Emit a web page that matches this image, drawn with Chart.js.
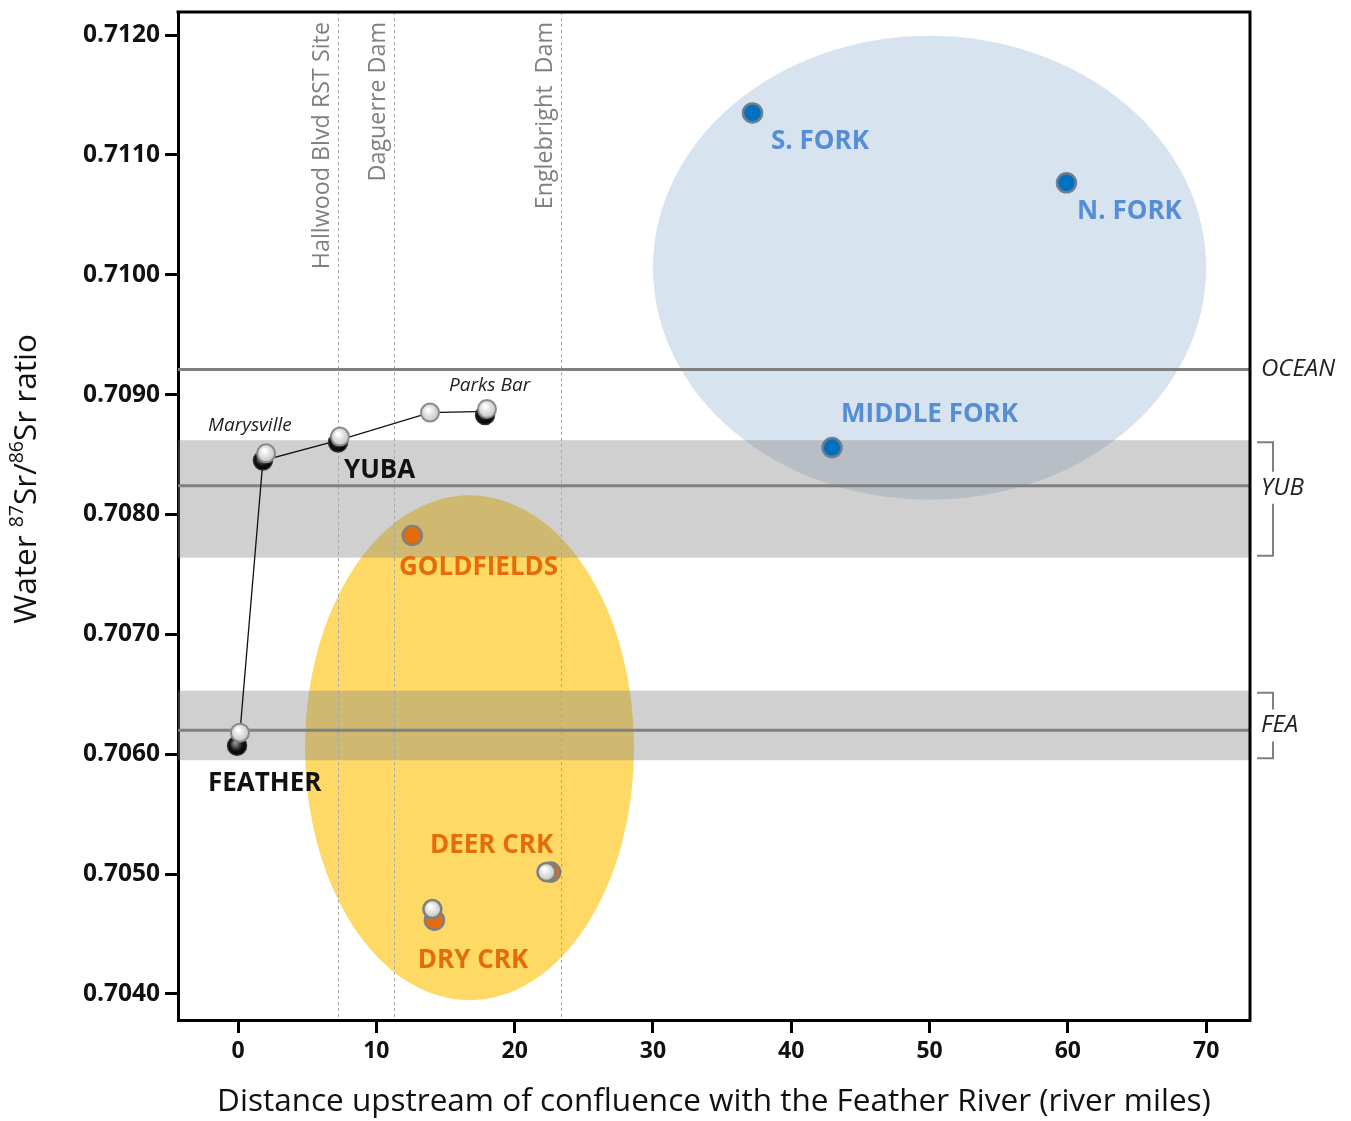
<!DOCTYPE html>
<html>
<head>
<meta charset="utf-8">
<script src="https://cdn.jsdelivr.net/npm/chart.js@4/dist/chart.umd.min.js"></script>
<style>
  html, body { margin: 0; padding: 0; background: #ffffff; }
  #wrap { width: 1351px; height: 1121px; }
</style>
</head>
<body>
<div id="wrap"><canvas id="chart" width="1351" height="1121"></canvas></div>
<script>
// Axis ticks
const xTicks = [0, 10, 20, 30, 40, 50, 60, 70];
const yTicks = [0.7040, 0.7050, 0.7060, 0.7070, 0.7080, 0.7090, 0.7100, 0.7110, 0.7120];

// Yuba / Feather main-stem samples (river miles, 87Sr/86Sr)
const mainStemDark = [
  { x: -0.07, y: 0.70607 },
  { x: 1.80, y: 0.70845 },
  { x: 7.23, y: 0.70860 },
  { x: 17.86, y: 0.70883 }
];
const mainStemLight = [
  { x: 0.14, y: 0.70618 },
  { x: 2.03, y: 0.70851 },
  { x: 7.37, y: 0.70865 },
  { x: 13.88, y: 0.70885 },
  { x: 18.00, y: 0.70888 }
];
const mainStemPath = [
  { x: 0.14, y: 0.70618 },
  { x: 1.80, y: 0.70845 },
  { x: 7.30, y: 0.70862 },
  { x: 13.88, y: 0.70885 },
  { x: 17.93, y: 0.70886 }
];

// Tributaries: Goldfields, Dry Creek, Deer Creek
const tribOrange = [
  { x: 12.6, y: 0.707825 },
  { x: 14.2, y: 0.704616 },
  { x: 22.6, y: 0.705017 }
];
const tribLight = [
  { x: 14.05, y: 0.704708 },
  { x: 22.3, y: 0.705017 }
];

// Upper forks: S. Fork, N. Fork, Middle Fork
const forks = [
  { x: 37.2, y: 0.71135 },
  { x: 59.9, y: 0.710767 },
  { x: 42.95, y: 0.708558 }
];

// Reference 87Sr/86Sr values and ranges
const oceanValue = 0.70921;
const yubValue = 0.70824;
const yubRange = [0.70764, 0.70862];
const feaValue = 0.70620;
const feaRange = [0.70595, 0.70653];

// Landmarks along the river (river miles)
const landmarkMiles = [7.23, 11.28, 23.35];
const landmarkNames = ['Hallwood Blvd RST Site', 'Daguerre Dam', 'Englebright  Dam'];

// Source regions (centre and half-widths, data units)
const forkRegion = { cx: 50.0, cy: 0.710058, rx: 20.0, ry: 0.001935 };
const tribRegion = { cx: 16.74, cy: 0.706054, rx: 11.9, ry: 0.002106 };

// Site names at data positions
const siteNames = ['FEATHER', 'YUBA', 'GOLDFIELDS', 'DEER CRK', 'DRY CRK', 'S. FORK', 'N. FORK', 'MIDDLE FORK', 'Marysville', 'Parks Bar'];
const siteX = [-2.17, 7.66, 11.64, 13.88, 13.0, 38.54, 60.67, 43.6, -2.17, 15.26];
const siteY = [0.705758, 0.708366, 0.707558, 0.705242, 0.704282, 0.711108, 0.710525, 0.708833, 0.708741, 0.709075];

const FONT = '"Open Sans", "Liberation Sans", sans-serif';
const BLUE_TXT = '#558ed5';
const ORANGE = '#e46c0a';
const siteStyle = [
  ['bold 26px', '#111111'], ['bold 26px', '#111111'], ['bold 26px', ORANGE], ['bold 26px', ORANGE],
  ['bold 26px', ORANGE], ['bold 26px', BLUE_TXT], ['bold 26px', BLUE_TXT], ['bold 26px', BLUE_TXT],
  ['italic 19px', '#222222'], ['italic 19px', '#222222']
];

function pix(chart, x, y) {
  return [chart.scales.x.getPixelForValue(x), chart.scales.y.getPixelForValue(y)];
}

function shaded(light) {
  return (c) => {
    const chart = c.chart;
    if (c.type !== 'data' || !chart.scales || !chart.scales.x || !c.raw) return light ? '#eeeeee' : '#000000';
    const [px, py] = pix(chart, c.raw.x, c.raw.y);
    if (!isFinite(px) || !isFinite(py)) return light ? '#eeeeee' : '#000000';
    const g = chart.ctx.createRadialGradient(px - 2, py - 3, 1, px, py, 10);
    if (light) { g.addColorStop(0, '#ffffff'); g.addColorStop(1, '#bdbdbd'); }
    else { g.addColorStop(0, '#8c8c8c'); g.addColorStop(0.6, '#111111'); g.addColorStop(1, '#000000'); }
    return g;
  };
}

// Background layers: regions, range bands, reference lines, landmarks
const backdrop = {
  id: 'backdrop',
  beforeDatasetsDraw(chart) {
    const { ctx, chartArea: a, scales: { x, y } } = chart;
    ctx.save();
    ctx.beginPath();
    ctx.rect(a.left, a.top, a.right - a.left, a.bottom - a.top);
    ctx.clip();

    const ell = (r, color) => {
      const cx = x.getPixelForValue(r.cx), cy = y.getPixelForValue(r.cy);
      const rx = Math.abs(x.getPixelForValue(r.cx + r.rx) - cx);
      const ry = Math.abs(y.getPixelForValue(r.cy + r.ry) - cy);
      ctx.fillStyle = color;
      ctx.beginPath();
      ctx.ellipse(cx, cy, rx, ry, 0, 0, Math.PI * 2);
      ctx.fill();
    };
    ell(forkRegion, '#d8e3f0');
    ell(tribRegion, '#fed966');

    ctx.fillStyle = 'rgba(128,128,128,0.37)';
    [yubRange, feaRange].forEach(r => {
      const y1 = y.getPixelForValue(r[1]), y0 = y.getPixelForValue(r[0]);
      ctx.fillRect(a.left, y1, a.right - a.left, y0 - y1);
    });

    ctx.setLineDash([3, 3]);
    ctx.strokeStyle = '#a6a6a6';
    ctx.lineWidth = 1;
    landmarkMiles.forEach(m => {
      const px = Math.round(x.getPixelForValue(m)) + 0.5;
      ctx.beginPath();
      ctx.moveTo(px, a.top);
      ctx.lineTo(px, a.bottom);
      ctx.stroke();
    });
    ctx.setLineDash([]);

    ctx.strokeStyle = '#808080';
    ctx.lineWidth = 3;
    [oceanValue, yubValue, feaValue].forEach(v => {
      const py = y.getPixelForValue(v);
      ctx.beginPath();
      ctx.moveTo(a.left, py);
      ctx.lineTo(a.right, py);
      ctx.stroke();
    });

    ctx.fillStyle = '#7f7f7f';
    ctx.font = '23.3px ' + FONT;
    ctx.textAlign = 'right';
    ctx.textBaseline = 'middle';
    landmarkMiles.forEach((m, i) => {
      const px = x.getPixelForValue(m) - 16;
      ctx.save();
      ctx.translate(px, a.top + 10);
      ctx.rotate(-Math.PI / 2);
      ctx.fillText(landmarkNames[i], 0, 0);
      ctx.restore();
    });
    ctx.restore();
  }
};

// Foreground: frame, site names, reference labels, y title
const overlay = {
  id: 'overlay',
  afterDraw(chart) {
    const { ctx, chartArea: a, scales: { x, y } } = chart;
    ctx.save();
    // top and right frame edges
    ctx.strokeStyle = '#000';
    ctx.lineWidth = 3;
    ctx.beginPath();
    ctx.moveTo(a.left - 1.5, a.top);
    ctx.lineTo(a.right, a.top);
    ctx.lineTo(a.right, a.bottom + 1.5);
    ctx.stroke();

    // site names
    ctx.textAlign = 'left';
    ctx.textBaseline = 'middle';
    siteNames.forEach((t, i) => {
      ctx.font = siteStyle[i][0] + ' ' + FONT;
      ctx.fillStyle = siteStyle[i][1];
      ctx.fillText(t, x.getPixelForValue(siteX[i]), y.getPixelForValue(siteY[i]));
    });

    // reference labels on the right
    const lx = a.right + 11;
    const yubY = y.getPixelForValue(yubValue) + 2;
    const feaY = y.getPixelForValue((feaRange[0] + feaRange[1]) / 2);
    ctx.font = 'italic 24px ' + FONT;
    ctx.fillStyle = '#222222';
    ctx.fillText('OCEAN', lx, y.getPixelForValue(oceanValue));
    ctx.fillText('YUB', lx, yubY);
    ctx.fillText('FEA', lx, feaY);

    // range brackets
    ctx.strokeStyle = '#808080';
    ctx.lineWidth = 2;
    const bracket = (r, mid) => {
      const top = y.getPixelForValue(r[1]) + 2, bot = y.getPixelForValue(r[0]) - 2;
      const bx = a.right + 23, x0 = a.right + 7;
      ctx.beginPath();
      ctx.moveTo(x0, top); ctx.lineTo(bx, top); ctx.lineTo(bx, mid - 16);
      ctx.moveTo(bx, mid + 16); ctx.lineTo(bx, bot); ctx.lineTo(x0, bot);
      ctx.stroke();
    };
    bracket(yubRange, yubY);
    bracket(feaRange, feaY);

    // y axis title with superscript isotopes
    const parts = [['Water ', false], ['87', true], ['Sr/', false], ['86', true], ['Sr ratio', false]];
    const big = '31.5px ' + FONT, small = '19.5px ' + FONT;
    let w = 0;
    parts.forEach(p => { ctx.font = p[1] ? small : big; w += ctx.measureText(p[0]).width; });
    ctx.translate(27, (a.top + a.bottom) / 2 - 37);
    ctx.rotate(-Math.PI / 2);
    ctx.fillStyle = '#111111';
    ctx.textAlign = 'left';
    ctx.textBaseline = 'middle';
    let cx = -w / 2;
    parts.forEach(p => {
      ctx.font = p[1] ? small : big;
      ctx.fillText(p[0], cx, p[1] ? -10 : 0);
      cx += ctx.measureText(p[0]).width;
    });
    ctx.restore();
  }
};

const pointBase = { type: 'scatter', showLine: false, pointHoverRadius: 9 };

new Chart(document.getElementById('chart'), {
  type: 'scatter',
  data: {
    datasets: [
      Object.assign({}, pointBase, {
        data: forks, order: 1, pointRadius: 9.5, pointBackgroundColor: '#0070c0',
        pointBorderColor: '#6f7f8f', pointBorderWidth: 2.5
      }),
      Object.assign({}, pointBase, {
        data: tribLight, order: 2, pointRadius: 9, pointBackgroundColor: shaded(true),
        pointBorderColor: '#7f7f7f', pointBorderWidth: 2.5
      }),
      Object.assign({}, pointBase, {
        data: tribOrange, order: 3, pointRadius: 9.5, pointBackgroundColor: ORANGE,
        pointBorderColor: '#7f7f7f', pointBorderWidth: 2.5
      }),
      Object.assign({}, pointBase, {
        data: mainStemLight, order: 4, pointRadius: 9, pointBackgroundColor: shaded(true),
        pointBorderColor: '#8a8a8a', pointBorderWidth: 2
      }),
      Object.assign({}, pointBase, {
        data: mainStemDark, order: 5, pointRadius: 9.5, pointBackgroundColor: shaded(false),
        pointBorderColor: '#333333', pointBorderWidth: 1.5
      }),
      {
        type: 'line', data: mainStemPath, order: 6, showLine: true, fill: false,
        borderColor: '#111111', borderWidth: 1.3, pointRadius: 0, tension: 0
      }
    ]
  },
  options: {
    responsive: false,
    animation: false,
    events: [],
    layout: { padding: { top: 12, right: 101, left: 0, bottom: 0 } },
    plugins: { legend: { display: false }, tooltip: { enabled: false } },
    scales: {
      x: {
        type: 'linear', min: -4.34, max: 73.17,
        afterBuildTicks: (s) => { s.ticks = xTicks.map(v => ({ value: v })); },
        afterFit: (s) => { s.height = 101; s.paddingLeft = 0; s.paddingRight = 0; },
        grid: { drawOnChartArea: false, drawTicks: true, tickLength: 13, tickWidth: 3, tickColor: '#000' },
        border: { display: true, color: '#000', width: 3 },
        ticks: { padding: 5, color: '#111', font: { family: FONT, size: 23, weight: 'bold' }, maxRotation: 0 },
        title: {
          display: true, text: 'Distance upstream of confluence with the Feather River (river miles)',
          color: '#111', font: { family: FONT, size: 31.5 }, padding: { top: 4, bottom: 0 }
        }
      },
      y: {
        type: 'linear', min: 0.703783, max: 0.712192,
        afterBuildTicks: (s) => { s.ticks = yTicks.map(v => ({ value: v })); },
        afterFit: (s) => { s.width = 178; s.paddingTop = 0; s.paddingBottom = 0; },
        grid: { drawOnChartArea: false, drawTicks: true, tickLength: 13, tickWidth: 3, tickColor: '#000' },
        border: { display: true, color: '#000', width: 3 },
        ticks: {
          padding: 5, color: '#111', font: { family: FONT, size: 24.5, weight: 'bold' },
          callback: (v) => Number(v).toFixed(4)
        }
      }
    }
  },
  plugins: [backdrop, overlay]
});
</script>
</body>
</html>
